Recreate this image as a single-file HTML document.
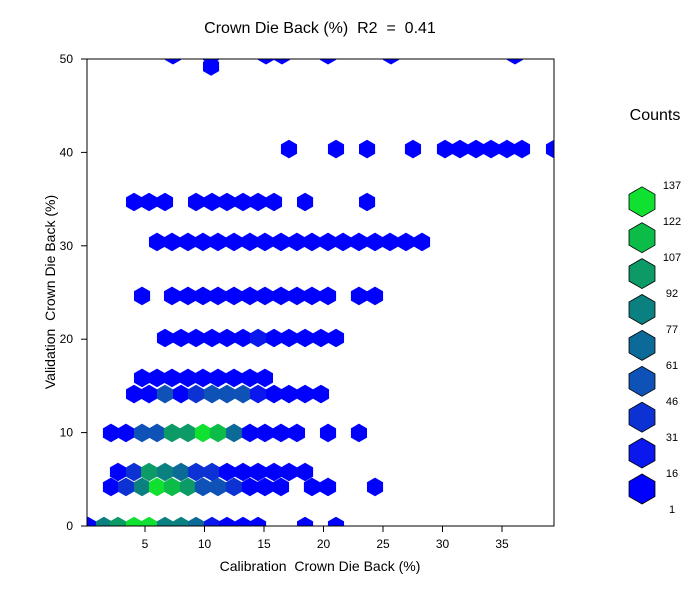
<!DOCTYPE html>
<html><head><meta charset="utf-8"><style>
body{margin:0;background:#fff;}
svg text{font-family:"Liberation Sans",Arial,sans-serif;white-space:pre;}
</style></head><body>
<svg id="chart" width="700" height="600" xmlns="http://www.w3.org/2000/svg">
<defs><clipPath id="plotclip"><rect x="87" y="59" width="467" height="467"/></clipPath></defs>
<rect width="700" height="600" fill="#fff"/>
<text x="320" y="33" font-size="16" text-anchor="middle" xml:space="preserve">Crown Die Back (%)  R2  =  0.41</text>
<g id="hexes" clip-path="url(#plotclip)"></g>
<rect x="87" y="59" width="467" height="467" fill="none" stroke="#000" stroke-width="1"/>
<g id="axes"></g>
<text x="320" y="571" font-size="14" text-anchor="middle" xml:space="preserve">Calibration  Crown Die Back (%)</text>
<text x="55" y="292" font-size="14" text-anchor="middle" transform="rotate(-90 55 292)" xml:space="preserve">Validation  Crown Die Back (%)</text>
<text x="655" y="120" font-size="16" text-anchor="middle">Counts</text>
<g id="legend"></g>
</svg>
<script>
const rowY = [0,4.18,5.78,9.96,14.13,15.85,20.13,24.63,30.41,34.69,40.36,50.4,49.2];
const rowXs = [
 [0.21,1.55,2.73,4.08,5.34,6.68,8.03,9.29,10.63,11.89,13.24,14.50,18.45,21.05],
 [2.14,3.40,4.75,6.01,7.27,8.61,9.87,11.13,12.48,13.82,15.08,16.43,19.03,20.38,24.33],
 [2.73,4.08,5.34,6.68,8.03,9.29,10.63,11.89,13.24,14.50,15.84,17.10,18.45],
 [2.14,3.40,4.75,6.01,7.27,8.61,9.87,11.13,12.48,13.82,15.08,16.43,17.77,20.38,22.98],
 [4.08,5.34,6.68,8.03,9.29,10.63,11.89,13.24,14.50,15.84,17.10,18.45,19.79],
 [4.75,6.01,7.27,8.61,9.87,11.13,12.48,13.82,15.08],
 [6.68,8.03,9.29,10.63,11.89,13.24,14.50,15.84,17.10,18.45,19.79,21.05],
 [4.75,7.27,8.61,9.87,11.13,12.48,13.82,15.08,16.43,17.77,19.03,20.38,22.98,24.33],
 [6.01,7.27,8.61,9.87,11.13,12.48,13.82,15.08,16.43,17.77,19.03,20.38,21.64,22.98,24.33,25.59,26.93,28.28],
 [4.08,5.34,6.68,9.29,10.63,11.89,13.24,14.50,15.84,18.45,23.66],
 [17.10,21.05,23.66,27.52,30.21,31.47,32.82,34.08,35.42,36.68,39.37],
 [7.35,10.55,15.17,16.51,20.38,25.67,36.09],
 [10.55]
];
const rowCounts = [
 [5,80,95,130,125,85,85,70,25,10,8,5,3,3],
 [8,45,85,137,115,105,50,48,40,10,10,10,5,5,3],
 [8,40,100,85,65,40,35,10,10,10,10,10,5],
 [5,10,55,50,100,100,130,115,75,10,10,10,10,3,3],
 [10,10,60,15,45,50,55,50,20,10,10,10,5],
 [15,15,15,15,15,15,15,15,15],
 [8,8,8,8,8,8,20,8,8,8,8,8],
 [5,8,8,8,8,8,8,8,8,8,8,8,5,5],
 [8,8,8,8,8,8,8,8,8,8,8,8,8,8,8,8,8,8],
 [5,5,5,5,5,5,5,5,5,5,5],
 [3,3,3,3,3,3,3,3,3,3,3],
 [2,3,2,2,2,2,2],
 [3]
];
const xTicks = [5,10,15,20,25,30,35];
const yTicks = [0,10,20,30,40,50];
const legendBreaks = [1,16,31,46,61,77,92,107,122,137];
const palette = ["#0000ff","#0a18ee","#0c32d4","#0e52b8","#0c6a98","#0a8080","#0c9a66","#0cbc48","#10e030"];

const NS="http://www.w3.org/2000/svg";
const sx = v => 85.5 + v*11.9;
const sy = v => 526 - v*9.34;
function colorFor(c){for(let i=palette.length-1;i>=0;i--){if(c>=legendBreaks[i])return palette[i];}return palette[0];}
function hexPts(cx,cy,r){const p=[];for(let k=0;k<6;k++){const a=Math.PI/180*(60*k-90);p.push((cx+r*Math.cos(a)).toFixed(2)+","+(cy+r*Math.sin(a)).toFixed(2));}return p.join(" ");}

const hg=document.getElementById('hexes');
rowXs.forEach((xs,ri)=>{xs.forEach((xv,ci)=>{
  const h=document.createElementNS(NS,'polygon');
  h.setAttribute('points',hexPts(sx(xv),sy(rowY[ri]),9.3));
  h.setAttribute('fill',colorFor(rowCounts[ri][ci]));
  
  
  hg.appendChild(h);
});});

const ag=document.getElementById('axes');
xTicks.forEach(t=>{
  const l=document.createElementNS(NS,'line');
  l.setAttribute('x1',sx(t));l.setAttribute('x2',sx(t));l.setAttribute('y1',526);l.setAttribute('y2',532);l.setAttribute('stroke','#000');
  
  
  ag.appendChild(l);
  const tx=document.createElementNS(NS,'text');
  tx.setAttribute('x',sx(t));tx.setAttribute('y',548);tx.setAttribute('font-size','12');tx.setAttribute('text-anchor','middle');tx.textContent=t;
  
  
  ag.appendChild(tx);
});
yTicks.forEach(t=>{
  const l=document.createElementNS(NS,'line');
  l.setAttribute('x1',81);l.setAttribute('x2',87);l.setAttribute('y1',sy(t));l.setAttribute('y2',sy(t));l.setAttribute('stroke','#000');
  
  
  ag.appendChild(l);
  const tx=document.createElementNS(NS,'text');
  tx.setAttribute('x',73);tx.setAttribute('y',sy(t)+4);tx.setAttribute('font-size','12');tx.setAttribute('text-anchor','end');tx.textContent=t;
  
  
  ag.appendChild(tx);
});

const lg=document.getElementById('legend');
for(let i=0;i<palette.length;i++){
  const cy=489-i*35.9;
  const h=document.createElementNS(NS,'polygon');
  h.setAttribute('points',hexPts(642,cy,15));
  h.setAttribute('fill',palette[i]);h.setAttribute('stroke','#000');h.setAttribute('stroke-width','0.8');
  
  
  lg.appendChild(h);
}
legendBreaks.forEach((b,i)=>{
  const tx=document.createElementNS(NS,'text');
  tx.setAttribute('x',672);tx.setAttribute('y',513-i*36);tx.setAttribute('font-size','11');tx.setAttribute('text-anchor','middle');tx.textContent=b;
  
  
  lg.appendChild(tx);
});
</script>
</body></html>
